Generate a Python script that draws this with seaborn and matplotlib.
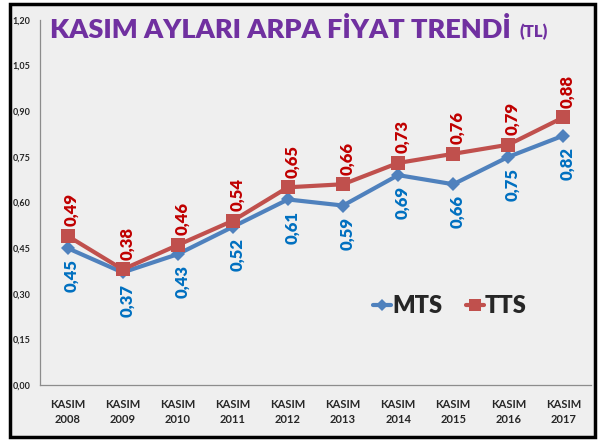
import numpy as np
import pandas as pd
import matplotlib
matplotlib.use("Agg")
import matplotlib.pyplot as plt
import seaborn as sns
from matplotlib.patches import Rectangle
from matplotlib.lines import Line2D

# ── Data ──────────────────────────────────────────────────────────────
years = ["2008", "2009", "2010", "2011", "2012", "2013", "2014", "2015", "2016", "2017"]
mts = [0.45, 0.37, 0.43, 0.52, 0.61, 0.59, 0.69, 0.66, 0.75, 0.82]
tts = [0.49, 0.38, 0.46, 0.54, 0.65, 0.66, 0.73, 0.76, 0.79, 0.88]
y_ticks = [0.00, 0.15, 0.30, 0.45, 0.60, 0.75, 0.90, 1.05, 1.20]

x_labels = [f"KASIM\n{y}" for y in years]

# ── Style ─────────────────────────────────────────────────────────────
sns.set_theme(style="white")
plt.rcParams["font.family"] = ["Lato", "DejaVu Sans"]

_C = {
    "mts":      "#4F81BD",
    "tts":      "#C0504D",
    "mts_lab":  "#0070C0",
    "tts_lab":  "#C00000",
    "title":    "#7030A0",
    "axis":     "#8c8c8c",
    "bg":       "#efefef",
}

W, H = 601, 441
fig = plt.figure(figsize=(W / 100, H / 100), dpi=100)
fig.patch.set_facecolor("white")

# chart frame with black border
fig.add_artist(Rectangle((10 / W, 4 / H), 585 / W, 433 / H,
                         transform=fig.transFigure, facecolor=_C["bg"],
                         edgecolor="black", linewidth=2.5, zorder=0))

ax = fig.add_axes([40 / W, 1 - 385 / H, 551 / W, 365 / H])
ax.set_facecolor("none")

df = pd.DataFrame({"x": np.arange(len(years)), "MTS": mts, "TTS": tts})

sns.lineplot(data=df, x="x", y="MTS", ax=ax, color=_C["mts"], lw=3,
             marker="D", markersize=7, markeredgewidth=0, zorder=3)
sns.lineplot(data=df, x="x", y="TTS", ax=ax, color=_C["tts"], lw=3,
             marker="s", markersize=10, markeredgewidth=0, zorder=4)

# data labels (rotated, Excel style)
for i, (m, t) in enumerate(zip(mts, tts)):
    ax.annotate(f"{m:.2f}".replace(".", ","), (i, m), xytext=(3, -8),
                textcoords="offset points", rotation=90, ha="center", va="top",
                color=_C["mts_lab"], fontsize=12, fontweight="heavy")
    ax.annotate(f"{t:.2f}".replace(".", ","), (i, t), xytext=(3, 7),
                textcoords="offset points", rotation=90, ha="center", va="bottom",
                color=_C["tts_lab"], fontsize=12, fontweight="heavy")

ax.set_xlim(-0.5, len(years) - 0.5)
ax.set_ylim(0, 1.20)
ax.set_yticks(y_ticks)
ax.set_yticklabels([f"{v:.2f}".replace(".", ",") for v in y_ticks],
                   fontsize=6.5, fontweight="bold")
ax.set_xticks(np.arange(len(years)))
ax.set_xticklabels(x_labels, fontsize=8, fontweight="bold", linespacing=1.5)
ax.set_xticks(np.arange(len(years) + 1) - 0.5, minor=True)
ax.tick_params(axis="x", which="major", length=0, pad=10)
ax.tick_params(axis="x", which="minor", length=5, width=0.8,
               color=_C["axis"], direction="out")
ax.tick_params(axis="y", length=4, width=0.8, color=_C["axis"],
               direction="out", pad=3)
ax.set_xlabel("")
ax.set_ylabel("")

for s in ["top", "right"]:
    ax.spines[s].set_visible(False)
for s in ["left", "bottom"]:
    ax.spines[s].set_color(_C["axis"])
    ax.spines[s].set_linewidth(0.9)
ax.grid(False)

# legend
handles = [
    Line2D([], [], color=_C["mts"], lw=3, marker="D", markersize=6, markeredgewidth=0),
    Line2D([], [], color=_C["tts"], lw=3, marker="s", markersize=8, markeredgewidth=0),
]
fig.legend(handles, ["MTS", "TTS"], loc="center left",
           bbox_to_anchor=(352 / W, 1 - 306 / H), ncol=2, frameon=False,
           handlelength=0.75, handletextpad=0.05, columnspacing=1.0,
           prop={"size": 17, "weight": "heavy", "family": "Lato"})

# title
fig.text(50 / W, 1 - 29 / H, "KASIM AYLARI ARPA FİYAT TRENDİ",
         color=_C["title"], fontsize=19.5, fontweight="heavy", ha="left", va="center")
fig.text(519 / W, 1 - 32 / H, "(TL)", color=_C["title"], fontsize=12,
         fontweight="heavy", ha="left", va="center")

fig.savefig("out.png", dpi=100)
